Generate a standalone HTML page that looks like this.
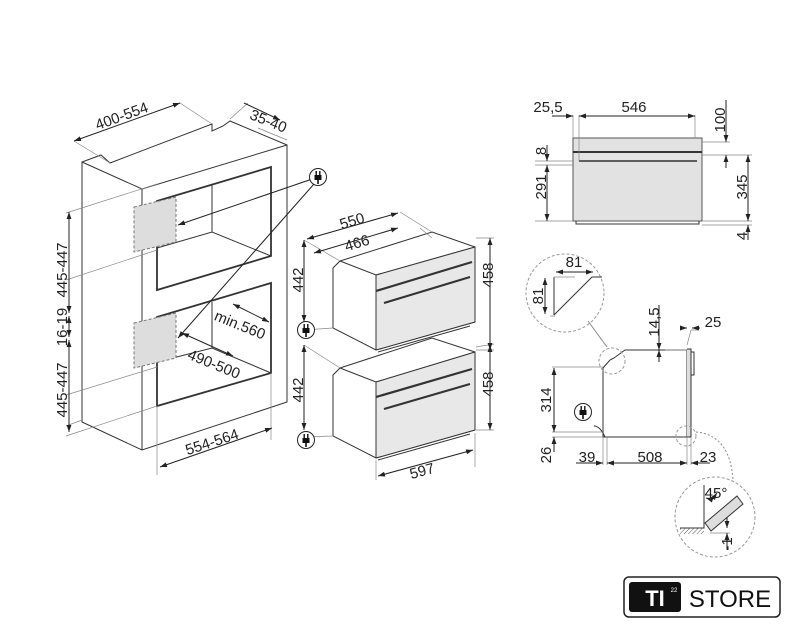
<!DOCTYPE html>
<html><head><meta charset="utf-8"><style>
html,body{margin:0;padding:0;background:#fff;width:791px;height:640px;overflow:hidden}
svg{display:block}
text{font-family:"Liberation Sans",sans-serif;font-size:15px;fill:#222}
</style></head><body>
<svg width="791" height="640" viewBox="0 0 791 640" xmlns="http://www.w3.org/2000/svg">
<defs>
<marker id="a" viewBox="0 0 10 10" refX="10" refY="5" markerWidth="7" markerHeight="7" orient="auto-start-reverse"><path d="M0,1.5 L10,5 L0,8.5z" fill="#222"/></marker>
<pattern id="h" width="3" height="3" patternUnits="userSpaceOnUse" patternTransform="rotate(45)"><line x1="0" y1="0" x2="0" y2="3" stroke="#555" stroke-width="1"/></pattern>
<g id="plug"><circle r="8.5" fill="#fff" stroke="#222" stroke-width="1"/><rect x="-3.5" y="-2" width="7" height="5" fill="#111"/><rect x="-2.5" y="-6" width="1.4" height="4" fill="#111"/><rect x="1.1" y="-6" width="1.4" height="4" fill="#111"/><rect x="-0.8" y="3" width="1.6" height="4" fill="#111"/></g>
</defs>
<g fill="none" stroke="#333" stroke-width="1">
<path d="M82,162 L101,155 L110,163 L212,124 L212,131 L223,126 L230,121 L287,145 L287,402 L142,450 L82,422 Z"/>
<path d="M82,162 L142,189 L287,145 M142,189 L142,450"/>
<path d="M157,201 L271,167 L271,256 L157,290 Z" stroke-width="1.8"/>
<path d="M212,185 L212,232 M157,248 L212,232 L271,256"/>
<path d="M157,317 L271,283 L271,373 L157,406 Z" stroke-width="1.8"/>
<path d="M212,302 L212,348 M157,362 L212,348 L271,373"/>
<path d="M134,207 L176,197 L176,242 L134,252 Z M134,323 L176,313 L176,358 L134,368 Z" fill="#ddd" stroke="#777" stroke-dasharray="3,2"/>
<g stroke="#888" stroke-width="0.7">
<path d="M66,280 L157,250 M66,395 L157,367 M66,213 L157,184 M66,436 L157,406"/>
<path d="M82,420 L66,426 M157,406 L157,475 M271,373 L271,440 M74,141 L110,163 M180,103 L212,124 M248,103 L230,119 M258,128 L287,140"/>
</g>
<g stroke="#222" marker-start="url(#a)" marker-end="url(#a)">
<line x1="69" y1="212" x2="69" y2="313"/><line x1="69" y1="316" x2="69" y2="337"/><line x1="69" y1="340" x2="69" y2="432"/>
<line x1="74" y1="141" x2="180" y2="103"/>
<line x1="244" y1="103" x2="280" y2="120" marker-start="none"/>
<line x1="233" y1="304" x2="269" y2="322"/>
<line x1="182" y1="333" x2="233" y2="356"/>
<line x1="160" y1="467" x2="272" y2="428"/>
<line x1="318" y1="177" x2="178" y2="225" marker-start="none"/>
<line x1="314" y1="184" x2="178" y2="338" marker-start="none"/>
</g>
<g>
<path d="M340,261 L432,232 L475,247 L475,322 L376,350 L333,328 L333,268 Z" fill="#fff"/>
<path d="M340,261 L376,275 L475,247 M376,275 L376,350"/>
<path d="M376,275 L475,247 L475,322 L376,350 Z" fill="#e8e8e8"/>
<path d="M376,291 L472,262 M384,303 L470,277" stroke-width="2.2"/>
<path d="M378,352 L470,326"/>
<path d="M340,368 L432,338 L475,352 L475,430 L376,458 L333,436 L333,375 Z" fill="#fff"/>
<path d="M340,368 L376,382 L475,352 M376,382 L376,458"/>
<path d="M376,382 L475,352 L475,430 L376,458 Z" fill="#e8e8e8"/>
<path d="M376,397 L472,369 M384,409 L470,384" stroke-width="2.2"/>
<path d="M378,460 L470,434"/>
</g>
<g stroke="#888" stroke-width="0.7"><path d="M304,240 L340,261 M304,330 L333,328 M304,345 L340,368 M304,437 L333,436 M476,238 L494,238 M476,350 L494,350 M476,347 L494,344 M476,430 L494,430 M376,460 L376,480 M475,433 L475,467 M432,232 L400,212 M432,238 L420,228"/></g>
<g stroke="#222" marker-start="url(#a)" marker-end="url(#a)">
<line x1="304" y1="240" x2="304" y2="322"/><line x1="304" y1="345" x2="304" y2="430"/>
<line x1="490" y1="238" x2="490" y2="350"/><line x1="490" y1="345" x2="490" y2="430"/>
<line x1="307" y1="239" x2="398" y2="213"/><line x1="314" y1="253" x2="398" y2="228"/>
<line x1="378" y1="476" x2="473" y2="450"/>
</g>
<rect x="573" y="138" width="129" height="83" fill="#e2e2e2" stroke="#555"/>
<path d="M573,152 L702,152" stroke-width="2"/><path d="M579,161 L697,161" stroke-width="1.5"/>
<path d="M576,221 L576,224 L699,224 L699,221"/>
<g stroke="#888" stroke-width="0.7"><path d="M573,115 L573,138 M579,115 L579,161 M695,115 L695,138 M702,142 L730,142 M702,155 L752,155 M702,221 L752,221 M702,225 L752,225 M535,161 L573,161 M535,165 L573,165 M535,221 L573,221"/></g>
<g stroke="#222">
<line x1="579" y1="116" x2="695" y2="116" marker-start="url(#a)" marker-end="url(#a)"/>
<line x1="552" y1="116" x2="573" y2="116" marker-end="url(#a)"/>
<line x1="726" y1="100" x2="726" y2="142" marker-end="url(#a)"/><line x1="726" y1="168" x2="726" y2="155" marker-end="url(#a)"/>
<line x1="547" y1="145" x2="547" y2="161" marker-end="url(#a)"/>
<line x1="547" y1="165" x2="547" y2="221" marker-start="url(#a)" marker-end="url(#a)"/>
<line x1="748" y1="155" x2="748" y2="221" marker-start="url(#a)" marker-end="url(#a)"/>
<line x1="748" y1="240" x2="748" y2="225" marker-end="url(#a)"/>
</g>
<path d="M603,437 L603,368 L610,360 L614,358 L625,350 L687,350 L687,437 Z"/>
<path d="M687,349 L691,349 L691,437 L687,437" fill="#ddd"/>
<path d="M691,352 L694,352 L694,375 L691,375"/>
<path d="M594,426 Q600,426 605,437"/>
<circle cx="565" cy="293" r="39" stroke="#999" stroke-dasharray="3,2"/>
<circle cx="612" cy="361" r="13" stroke="#999" stroke-dasharray="3,2"/>
<circle cx="686" cy="436" r="10" stroke="#999" stroke-dasharray="3,2"/>
<circle cx="715" cy="517" r="40" stroke="#999" stroke-dasharray="3,2"/>
<path d="M554,315 L592,277 L602,277 M554,277 L554,315"/>
<path d="M607,347 L588,321" stroke="#888"/>
<path d="M696,432 Q730,435 733,480" stroke="#888" stroke-dasharray="2,2"/>
<path d="M704,485 L704,528 L680,528"/>
<rect x="680" y="528" width="24" height="6" fill="url(#h)" stroke="none"/>
<path d="M705,523 L737,496 L743,504 L711,531 Z" fill="#ddd"/>
<g stroke="#888" stroke-width="0.7"><path d="M554,277 L575,277 M550,316 L555,316 M552,367 L603,367 M552,432 L603,432 M552,437 L603,437 M603,437 L603,465 M607,437 L607,465 M687,437 L687,465 M691,437 L691,465 M687,350 L665,350 M687,345 L691,330 M691,330 L698,330 M710,533 L730,533"/></g>
<g stroke="#222">
<line x1="556" y1="272" x2="593" y2="272" marker-start="url(#a)" marker-end="url(#a)"/>
<line x1="545" y1="278" x2="545" y2="314" marker-start="url(#a)" marker-end="url(#a)"/>
<line x1="659" y1="305" x2="659" y2="350" marker-end="url(#a)"/><line x1="659" y1="362" x2="659" y2="350" marker-end="url(#a)"/>
<line x1="683" y1="328" x2="687" y2="328" marker-end="url(#a)"/><line x1="700" y1="328" x2="692" y2="328" marker-end="url(#a)"/>
<line x1="554" y1="368" x2="554" y2="432" marker-start="url(#a)" marker-end="url(#a)"/>
<line x1="554" y1="452" x2="554" y2="437" marker-end="url(#a)"/>
<line x1="576" y1="463" x2="603" y2="463" marker-end="url(#a)"/>
<line x1="607" y1="463" x2="687" y2="463" marker-start="url(#a)" marker-end="url(#a)"/>
<line x1="710" y1="463" x2="691" y2="463" marker-end="url(#a)"/>
<line x1="727" y1="517" x2="727" y2="528" marker-end="url(#a)"/><line x1="727" y1="550" x2="727" y2="533" marker-end="url(#a)"/>
<path d="M706,498 Q712,500 717,493" marker-start="url(#a)" marker-end="url(#a)"/>
</g>
<rect x="624" y="577" width="156" height="40" rx="5" stroke="#222" stroke-width="1.5"/>
</g>
<use href="#plug" x="318" y="177"/><use href="#plug" x="306" y="330"/><use href="#plug" x="306" y="440"/><use href="#plug" x="583" y="412"/>
<text x="122" y="121" text-anchor="middle" transform="rotate(-20 122 117)">400-554</text>
<text x="268" y="126" text-anchor="middle" transform="rotate(22 268 122)">35-40</text>
<text x="240" y="330" text-anchor="middle" transform="rotate(22 240 325)">min.560</text>
<text x="214" y="369" text-anchor="middle" transform="rotate(22 214 364)">490-500</text>
<text x="212" y="447" text-anchor="middle" transform="rotate(-18 212 442)">554-564</text>
<text x="62" y="275" text-anchor="middle" transform="rotate(-90 62 270)">445-447</text>
<text x="62" y="332" text-anchor="middle" transform="rotate(-90 62 327)">16-19</text>
<text x="62" y="395" text-anchor="middle" transform="rotate(-90 62 390)">445-447</text>
<text x="352" y="226" text-anchor="middle" transform="rotate(-17 352 221)">550</text>
<text x="357" y="248" text-anchor="middle" transform="rotate(-17 357 243)">466</text>
<text x="298" y="285" text-anchor="middle" transform="rotate(-90 298 280)">442</text>
<text x="298" y="395" text-anchor="middle" transform="rotate(-90 298 390)">442</text>
<text x="488" y="280" text-anchor="middle" transform="rotate(-90 488 275)">458</text>
<text x="488" y="389" text-anchor="middle" transform="rotate(-90 488 384)">458</text>
<text x="422" y="476" text-anchor="middle" transform="rotate(-15 422 471)">597</text>
<text x="548" y="112" text-anchor="middle">25,5</text>
<text x="634" y="112" text-anchor="middle">546</text>
<text x="720" y="125" text-anchor="middle" transform="rotate(-90 720 120)">100</text>
<text x="541" y="156" text-anchor="middle" transform="rotate(-90 541 151)">8</text>
<text x="541" y="192" text-anchor="middle" transform="rotate(-90 541 187)">291</text>
<text x="742" y="192" text-anchor="middle" transform="rotate(-90 742 187)">345</text>
<text x="742" y="241" text-anchor="middle" transform="rotate(-90 742 236)">4</text>
<text x="574" y="267" text-anchor="middle">81</text>
<text x="538" y="301" text-anchor="middle" transform="rotate(-90 538 296)">81</text>
<text x="654" y="327" text-anchor="middle" transform="rotate(-90 654 322)">14,5</text>
<text x="713" y="327" text-anchor="middle">25</text>
<text x="546" y="405" text-anchor="middle" transform="rotate(-90 546 400)">314</text>
<text x="546" y="460" text-anchor="middle" transform="rotate(-90 546 455)">26</text>
<text x="587" y="462" text-anchor="middle">39</text>
<text x="650" y="462" text-anchor="middle">508</text>
<text x="708" y="462" text-anchor="middle">23</text>
<text x="716" y="498" text-anchor="middle">45°</text>
<text x="727" y="549" text-anchor="middle" transform="rotate(-90 727 544)">-1</text>
<rect x="629" y="582" width="52" height="30" rx="3" fill="#111"/>
<text x="655" y="606" text-anchor="middle" style="font-size:22px;font-weight:bold;fill:#fff">TI</text>
<text x="674" y="592" text-anchor="middle" style="font-size:6px;fill:#fff">22</text>
<text x="730" y="607" text-anchor="middle" style="font-size:24px;fill:#111">STORE</text>
</svg>
</body></html>
